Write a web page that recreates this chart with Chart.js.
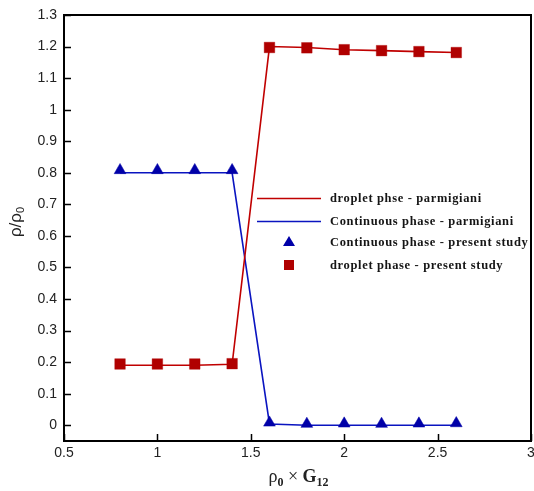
<!DOCTYPE html>
<html><head><meta charset="utf-8">
<script src="https://cdn.jsdelivr.net/npm/chart.js@4.4.1/dist/chart.umd.min.js"></script>
<style>html,body{margin:0;padding:0;background:#fff}canvas{display:block}</style>
</head><body>
<canvas id="c" width="534" height="491"></canvas>
<script>
// ---- data ----
const xValues = [0.8, 1.0, 1.2, 1.4, 1.6, 1.8, 2.0, 2.2, 2.4, 2.6];
const dropletParmigiani = [0.19, 0.19, 0.19, 0.193, 1.2, 1.197, 1.19, 1.187, 1.184, 1.181];
const continuousParmigiani = [0.8, 0.8, 0.8, 0.8, 0.004, 0.0, 0.0, 0.0, 0.0, 0.0];
const continuousStudy = [0.808, 0.808, 0.808, 0.808, 0.008, 0.004, 0.005, 0.004, 0.005, 0.006];
const dropletStudy = [0.194, 0.194, 0.194, 0.195, 1.197, 1.196, 1.19, 1.187, 1.184, 1.181];
const xTicks = [0.5, 1, 1.5, 2, 2.5, 3];
const yTicks = [0, 0.1, 0.2, 0.3, 0.4, 0.5, 0.6, 0.7, 0.8, 0.9, 1, 1.1, 1.2, 1.3];
const seriesNames = ['droplet phse - parmigiani', 'Continuous phase - parmigiani',
  'Continuous phase - present study', 'droplet phase - present study'];

const RED = '#c00000', RED_M = '#b00000', BLUE = '#0a14c0', BLUE_M = '#0000a8';
const pts = arr => xValues.map((x, i) => ({x, y: arr[i]}));

const framePlugin = {
  id: 'frame',
  beforeDatasetsDraw(chart) {
    const {ctx, chartArea: a, scales: {x, y}} = chart;
    ctx.save();
    ctx.strokeStyle = '#000';
    ctx.lineWidth = 1.5;
    ctx.beginPath();
    y.ticks.forEach(t => { const p = Math.round(y.getPixelForValue(t.value)) + 0.5; ctx.moveTo(a.left, p); ctx.lineTo(a.left + 7, p); });
    x.ticks.forEach(t => { const p = Math.round(x.getPixelForValue(t.value)) + 0.5; ctx.moveTo(p, a.bottom); ctx.lineTo(p, a.bottom - 7); });
    ctx.stroke();
    ctx.lineWidth = 2;
    ctx.strokeRect(a.left, a.top, a.right - a.left, a.bottom - a.top);
    ctx.restore();
  },
  afterDraw(chart) {
    const {ctx, chartArea: a} = chart;
    ctx.save();
    // legend
    const lx0 = a.left + 193, lx1 = a.left + 257, tx = a.left + 266;
    const rows = [a.top + 183, a.top + 206, a.top + 227, a.top + 250];
    ctx.font = 'bold 12.5px "Liberation Serif"';
    try { ctx.letterSpacing = '0.65px'; } catch (e) {}
    ctx.fillStyle = '#151515';
    ctx.textBaseline = 'middle';
    ctx.textAlign = 'left';
    rows.forEach((ry, i) => {
      const mx = (lx0 + lx1) / 2;
      if (i === 0 || i === 1) {
        ctx.strokeStyle = i === 0 ? RED : BLUE;
        ctx.lineWidth = 1.5;
        ctx.beginPath(); ctx.moveTo(lx0, ry + 0.5); ctx.lineTo(lx1, ry + 0.5); ctx.stroke();
      } else if (i === 2) {
        ctx.fillStyle = BLUE_M;
        ctx.beginPath(); ctx.moveTo(mx, ry - 6); ctx.lineTo(mx + 6, ry + 4); ctx.lineTo(mx - 6, ry + 4); ctx.closePath(); ctx.fill();
      } else {
        ctx.fillStyle = RED_M;
        ctx.fillRect(mx - 5, ry - 5, 10, 10);
      }
      ctx.fillStyle = '#151515';
      ctx.fillText(seriesNames[i], tx, ry + 1);
    });
    try { ctx.letterSpacing = '0px'; } catch (e) {}
    // y title  ρ/ρ0
    ctx.save();
    ctx.translate(21, 222);
    ctx.rotate(-Math.PI / 2);
    ctx.fillStyle = '#222';
    ctx.textBaseline = 'alphabetic';
    ctx.textAlign = 'left';
    ctx.font = '17px "Liberation Sans"';
    const yMain = 'ρ/ρ';
    const w1 = ctx.measureText(yMain).width;
    ctx.font = '11px "Liberation Sans"';
    const w2 = ctx.measureText('0').width;
    const sx = -(w1 + w2) / 2;
    ctx.font = '17px "Liberation Sans"';
    ctx.fillText(yMain, sx, 0);
    ctx.font = '11px "Liberation Sans"';
    ctx.fillText('0', sx + w1, 3);
    ctx.restore();
    // x title  ρ0 × G12
    const parts = [
      {t: 'ρ', f: '18px "Liberation Serif"', dy: 0},
      {t: '0', f: 'bold 12px "Liberation Serif"', dy: 4},
      {t: ' × ', f: '18px "Liberation Serif"', dy: 0},
      {t: 'G', f: 'bold 18px "Liberation Serif"', dy: 0},
      {t: '12', f: 'bold 12px "Liberation Serif"', dy: 4}
    ];
    let tw = 0;
    parts.forEach(p => { ctx.font = p.f; p.w = ctx.measureText(p.t).width; tw += p.w; });
    let cx = (a.left + a.right) / 2 - tw / 2 + 1;
    const by = a.bottom + 41;
    ctx.fillStyle = '#222';
    ctx.textBaseline = 'alphabetic';
    parts.forEach(p => { ctx.font = p.f; ctx.fillText(p.t, cx, by + p.dy); cx += p.w; });
    ctx.restore();
  }
};

const fmt = v => String(Number(v.toFixed(1)));

new Chart(document.getElementById('c'), {
  type: 'scatter',
  data: {
    datasets: [
      {label: seriesNames[3], data: pts(dropletStudy), showLine: false, pointStyle: 'rect', pointRadius: 7.5, pointHoverRadius: 7.5, backgroundColor: RED_M, borderColor: 'rgba(176,0,0,0.35)', borderWidth: 1, order: 0},
      {label: seriesNames[2], data: pts(continuousStudy), showLine: false, pointStyle: 'triangle', pointRadius: 6.8, pointHoverRadius: 6.8, backgroundColor: BLUE_M, borderColor: BLUE_M, borderWidth: 0.5, order: 1},
      {label: seriesNames[0], data: pts(dropletParmigiani), showLine: true, pointRadius: 0, borderColor: RED, borderWidth: 1.6, backgroundColor: RED, order: 2},
      {label: seriesNames[1], data: pts(continuousParmigiani), showLine: true, pointRadius: 0, borderColor: BLUE, borderWidth: 1.6, backgroundColor: BLUE, order: 3}
    ]
  },
  options: {
    responsive: false,
    animation: false,
    devicePixelRatio: 1,
    layout: {autoPadding: false, padding: {left: 0, top: 15, right: 3, bottom: 0}},
    plugins: {legend: {display: false}, tooltip: {enabled: false}},
    scales: {
      x: {
        type: 'linear', min: 0.5, max: 3,
        grid: {display: false, drawTicks: false, tickLength: 0}, border: {display: false},
        afterBuildTicks: s => { s.ticks = xTicks.map(v => ({value: v})); },
        afterFit: s => { s.height = 50; s.paddingLeft = 0; s.paddingRight = 0; },
        ticks: {color: '#222', padding: 4, font: {family: '"Liberation Sans"', size: 14}, callback: v => fmt(v), maxRotation: 0, autoSkip: false}
      },
      y: {
        type: 'linear', min: -0.05, max: 1.3,
        grid: {display: false, drawTicks: false, tickLength: 0}, border: {display: false},
        afterBuildTicks: s => { s.ticks = yTicks.map(v => ({value: v})); },
        afterFit: s => { s.width = 64; s.paddingTop = 0; s.paddingBottom = 0; },
        ticks: {color: '#222', padding: 7, font: {family: '"Liberation Sans"', size: 14}, callback: v => fmt(v), autoSkip: false}
      }
    }
  },
  plugins: [framePlugin]
});
</script>
</body></html>
